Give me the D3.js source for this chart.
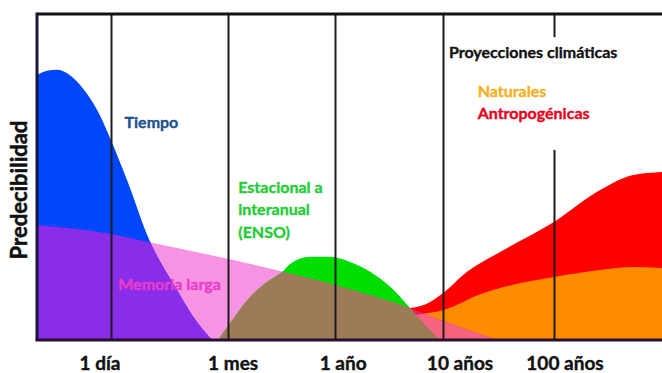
<!DOCTYPE html>
<html>
<head>
<meta charset="utf-8">
<script src="https://cdn.jsdelivr.net/npm/d3@7"></script>
<style>
    body { margin: 0; background: #fff; }
    svg { display: block; font-family: Lato, "Open Sans", sans-serif; font-weight: bold; }
    .axis path, .axis line { display: none; }
</style>
</head>
<body>
<div id="chart"></div>
<script>
// time scale is schematic: 0..100 across the plot width
const tickLabels = ["1 día", "1 mes", "1 año", "10 años", "100 años"];
const gridTicks = [11.84, 30.56, 47.68, 64.96, 82.72];
const labelTicks = [10.0, 31.3, 48.9, 67.6, 84.4];

// Tiempo (weather)
const tiempoX = [0, 1.6, 3.2, 5.0, 6.9, 9.6, 11.84, 14.4, 18.1, 22.1, 24.8, 28.0];
const tiempoY = [81.3, 82.6, 82.9, 81.6, 78.2, 70.6, 61.3, 49.1, 30.1, 16.3, 7.7, 0];

// Memoria larga
const memoriaX = [0, 11.84, 17.6, 27.7, 39.4, 47.7, 59.7, 65.0, 69.3, 73.6];
const memoriaY = [35.3, 32.5, 30.1, 26.1, 20.9, 16.9, 9.8, 5.8, 2.8, 0];

// Estacional a interanual (ENSO)
const ensoX = [29.0, 30.9, 34.1, 36.8, 39.4, 40.5, 43.7, 46.9, 50.1, 53.3, 56.5, 59.7, 62.1, 64.5];
const ensoY = [0, 5.2, 13.2, 17.8, 21.2, 23.3, 25.5, 25.5, 23.9, 20.9, 16.3, 9.8, 4.6, 0];

// Proyecciones: antropogénicas / naturales
const antroX = [59.7, 62.1, 65.0, 68.8, 74.1, 82.7, 90.1, 95.4, 100];
const antroY = [9.8, 10.9, 14.4, 20.9, 27.0, 36.2, 46.0, 50.6, 51.5];
const natX = [60.2, 61.3, 65.0, 71.4, 82.7, 90.1, 95.4, 100];
const natY = [7.6, 7.9, 9.2, 14.4, 19.3, 21.5, 22.4, 22.1];

const W = 662, H = 373;
const margin = { top: 14, right: 0, bottom: 33, left: 37 };

const svg = d3.select("#chart").append("svg")
    .attr("width", W)
    .attr("height", H);

const x = d3.scaleLinear().domain([0, 100]).range([margin.left, W - margin.right]);
const y = d3.scaleLinear().domain([0, 100]).range([H - margin.bottom, margin.top]);

const zip = (xs, ys) => xs.map((v, i) => [v, ys[i]]);

const area = d3.area()
    .x(d => x(d[0]))
    .y0(y(0))
    .y1(d => y(d[1]))
    .curve(d3.curveMonotoneX);

const memoria = zip(memoriaX, memoriaY);
const tiempo = zip(tiempoX, tiempoY);
const enso = zip(ensoX, ensoY);
const antro = zip(antroX, antroY);
const nat = zip(natX, natY);

svg.append("clipPath")
    .attr("id", "memClip")
    .append("path")
    .attr("d", area(memoria));

// base fills
svg.append("path").attr("d", area(memoria)).attr("fill", "#f693e2");
svg.append("path").attr("d", area(antro)).attr("fill", "#fe0000");
svg.append("path").attr("d", area(nat)).attr("fill", "#ff8c00");
svg.append("path").attr("d", area(enso)).attr("fill", "#00dd00");
svg.append("path").attr("d", area(tiempo)).attr("fill", "#0046fa");

// overlaps with memoria larga
const over = svg.append("g").attr("clip-path", "url(#memClip)");
over.append("path").attr("d", area(antro)).attr("fill", "#f0186c");
over.append("path").attr("d", area(nat)).attr("fill", "#f8647f");
over.append("path").attr("d", area(enso)).attr("fill", "#9d7b56");
over.append("path").attr("d", area(tiempo)).attr("fill", "#8a2de8");

// vertical reference lines
svg.append("g")
    .attr("class", "grid")
    .attr("transform", `translate(0,${y(0)})`)
    .call(d3.axisBottom(x).tickValues(gridTicks).tickSize(-(y(0) - y(100))).tickFormat(""))
    .call(g => g.select(".domain").remove())
    .selectAll("line")
    .attr("stroke", "#1c1c1c")
    .attr("stroke-width", 2);

// gap in the 100-year line behind the projection labels
svg.append("rect")
    .attr("x", x(gridTicks[4]) - 3)
    .attr("y", y(92.9))
    .attr("width", 6)
    .attr("height", y(58.3) - y(92.9))
    .attr("fill", "#fff");

// frame
svg.append("line")
    .attr("x1", x(0)).attr("x2", x(100))
    .attr("y1", y(100)).attr("y2", y(100))
    .attr("stroke", "#111").attr("stroke-width", 3);
svg.append("line")
    .attr("x1", x(0)).attr("x2", x(0))
    .attr("y1", y(100) - 1.5).attr("y2", y(0))
    .attr("stroke", "#1b1640").attr("stroke-width", 3);
svg.append("line")
    .attr("x1", x(0) - 1.5).attr("x2", x(100))
    .attr("y1", y(0)).attr("y2", y(0))
    .attr("stroke", "#2a1030").attr("stroke-width", 3);

// tick labels
svg.append("g")
    .attr("class", "axis")
    .attr("transform", `translate(0,${y(0)})`)
    .call(d3.axisBottom(x).tickValues(labelTicks).tickSize(0).tickPadding(0)
        .tickFormat((d, i) => tickLabels[i]))
    .selectAll("text")
    .attr("dy", 0)
    .attr("y", 30)
    .attr("fill", "#111")
    .attr("stroke", "#111")
    .attr("stroke-width", 0.4)
    .style("font-size", "19px")
    .style("font-family", "Lato, sans-serif")
    .style("font-weight", "bold");

// y-axis title
svg.append("text")
    .attr("transform", `translate(${x(0) - 10},${y(46)}) rotate(-90)`)
    .attr("text-anchor", "middle")
    .attr("fill", "#111")
    .attr("stroke", "#111")
    .attr("stroke-width", 0.5)
    .style("font-size", "22px")
    .text("Predecibilidad");

// annotations
const note = (tx, ty, txt, color, size) => svg.append("text")
    .attr("x", x(tx)).attr("y", y(ty))
    .attr("fill", color)
    .attr("stroke", color)
    .attr("stroke-width", 0.35)
    .style("font-size", size + "px")
    .text(txt);

note(14.0, 65.0, "Tiempo", "#1c4f8e", 16);
note(32.2, 45.1, "Estacional a", "#22cc33", 16);
note(32.2, 38.3, "interanual", "#22cc33", 16);
note(32.2, 31.3, "(ENSO)", "#22cc33", 16);
note(13.0, 15.3, "Memoria larga", "#e83ccb", 16);
note(65.9, 86.5, "Proyecciones climáticas", "#111", 16);
note(70.5, 74.5, "Naturales", "#f5b01c", 16);
note(70.5, 67.8, "Antropogénicas", "#e8001c", 16);
</script>
</body>
</html>
